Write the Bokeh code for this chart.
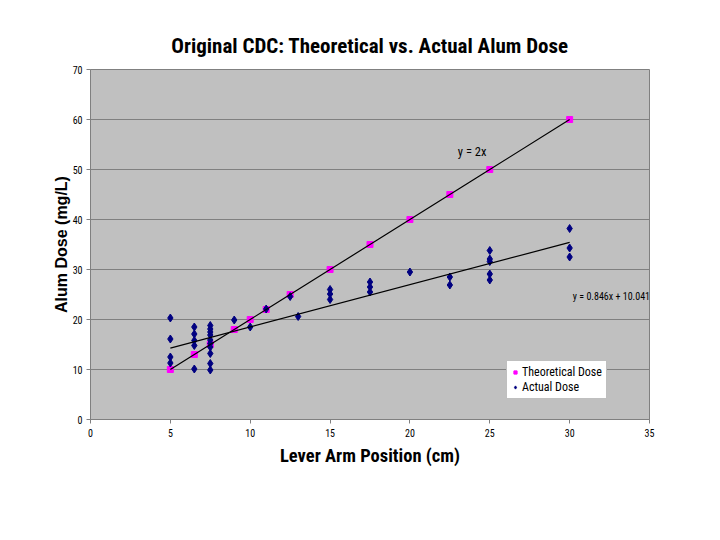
from bokeh.plotting import figure
from bokeh.models import Range1d, Label, Legend, LegendItem
from bokeh.embed import file_html
from bokeh.resources import INLINE

# ---- data ----
theo_x = [5, 6.5, 7.5, 9, 10, 11, 12.5, 15, 17.5, 20, 22.5, 25, 30]
theo_y = [10, 13, 15, 18, 20, 22, 25, 30, 35, 40, 45, 50, 60]

actual_x = [5, 5, 5, 5,
            6.5, 6.5, 6.5, 6.5, 6.5,
            7.5, 7.5, 7.5, 7.5, 7.5, 7.5, 7.5, 7.5, 7.5, 7.5,
            9, 10, 11, 12.5, 13,
            15, 15, 15,
            17.5, 17.5, 17.5,
            20,
            22.5, 22.5,
            25, 25, 25, 25, 25,
            30, 30, 30]
actual_y = [20.3, 16.1, 12.5, 11.3,
            18.5, 17.1, 15.8, 14.8, 10.1,
            18.8, 18.1, 17.5, 16.9, 15.9, 15.2, 14.5, 13.2, 11.2, 9.9,
            19.9, 18.5, 22.1, 24.6, 20.6,
            26.0, 25.1, 24.0,
            27.5, 26.5, 25.5,
            29.5,
            28.5, 26.9,
            33.8, 32.1, 31.6, 29.1, 27.9,
            38.2, 34.3, 32.5]

trend_slope = 0.846
trend_intercept = 10.041
trend_x = [5, 30]
trend_y = [trend_slope * v + trend_intercept for v in trend_x]

x_ticks = [0, 5, 10, 15, 20, 25, 30, 35]
y_ticks = [0, 10, 20, 30, 40, 50, 60, 70]

title_text = "Original CDC: Theoretical vs. Actual Alum Dose"
x_label = "Lever Arm Position (cm)"
y_label = "Alum Dose (mg/L)"
theo_eq = "y = 2x"
trend_eq = "y = 0.846x + 10.041"

SANS = "Liberation Sans"
COND = "Roboto Condensed, DejaVu Sans Condensed, Liberation Sans"

p = figure(width=704, height=524, output_backend="svg", toolbar_location=None,
           x_range=Range1d(0, 35), y_range=Range1d(0, 70),
           min_border_left=90, min_border_right=55,
           min_border_top=69, min_border_bottom=105)

p.background_fill_color = "#C0C0C0"
p.border_fill_color = "white"
p.outline_line_color = "#808080"

# title
p.title.text = title_text
p.title.align = "center"
p.title.text_font = COND
p.title.text_font_size = "21px"
p.title.text_font_style = "bold"
p.title.text_color = "black"
p.title.standoff = 23

# axes
for ax in (p.xaxis, p.yaxis):
    ax.major_tick_in = 0
    ax.major_tick_out = 4
    ax.minor_tick_line_color = None
    ax.axis_line_color = "#808080"
    ax.major_tick_line_color = "#808080"
    ax.major_label_text_font = COND
    ax.major_label_text_font_size = "10px"
    ax.major_label_text_color = "black"
    ax.axis_label_text_font_style = "bold"
    ax.axis_label_text_color = "black"

p.xaxis.ticker = x_ticks
p.yaxis.ticker = y_ticks
p.xaxis.axis_label = x_label
p.yaxis.axis_label = y_label
p.xaxis.axis_label_text_font = COND
p.xaxis.axis_label_text_font_size = "18.5px"
p.yaxis.axis_label_text_font = SANS
p.yaxis.axis_label_text_font_size = "16px"
p.xaxis.major_label_standoff = 5
p.yaxis.major_label_standoff = 4
p.xaxis.axis_label_standoff = 5
p.yaxis.axis_label_standoff = 0

p.xgrid.visible = False
p.ygrid.ticker = y_ticks
p.ygrid.grid_line_color = "#808080"
p.ygrid.grid_line_width = 1

# marks
theo = p.scatter(theo_x, theo_y, marker="square", size=6,
                 fill_color="#FF00FF", line_color="#FF00FF")
act = p.scatter(actual_x, actual_y, marker="diamond", size=8,
                fill_color="#000080", line_color="#000080")
p.line(theo_x, theo_y, line_color="black", line_width=1.2)
p.line(trend_x, trend_y, line_color="black", line_width=1.2)

# annotations
p.add_layout(Label(x=23, y=53.6, text=theo_eq, text_baseline="middle",
                   text_font=COND, text_font_size="12.5px", text_color="black"))
p.add_layout(Label(x=30.2, y=24.6, text=trend_eq, text_baseline="middle",
                   text_font=COND, text_font_size="10px", text_color="black"))

legend = Legend(items=[LegendItem(label="Theoretical Dose", renderers=[theo]),
                       LegendItem(label="Actual Dose", renderers=[act])],
                location=(416, 20))
legend.background_fill_color = "white"
legend.background_fill_alpha = 1
legend.border_line_color = "#808080"
legend.label_text_font = COND
legend.label_text_font_size = "12px"
legend.label_text_color = "black"
legend.padding = 4
legend.spacing = 1
legend.margin = 0
legend.label_height = 12
legend.glyph_height = 12
legend.glyph_width = 8
legend.label_standoff = 3
p.add_layout(legend)

open("out.html", "w").write(file_html(p, INLINE))
